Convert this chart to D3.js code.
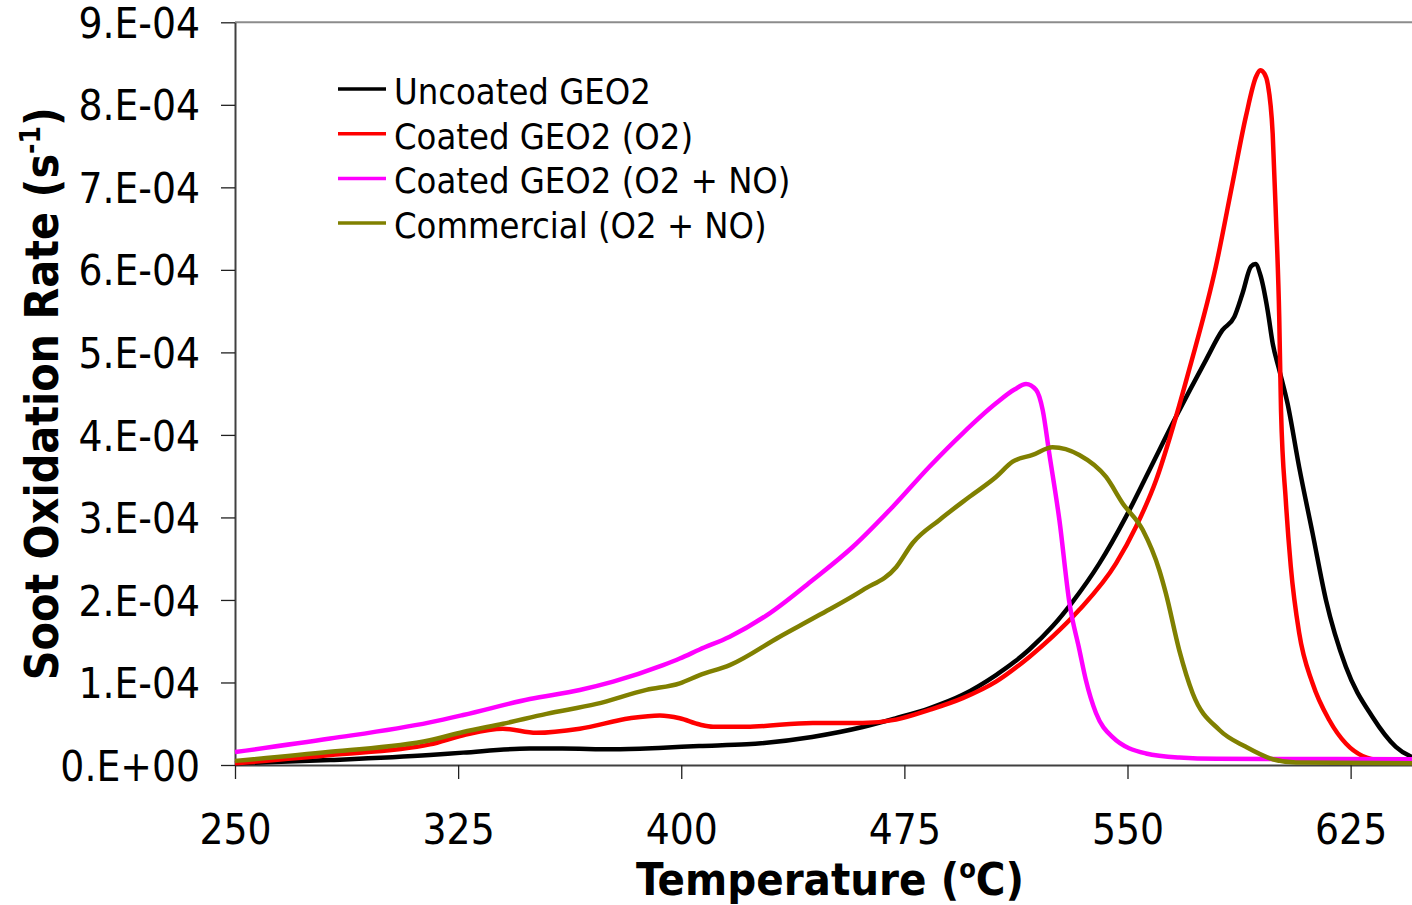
<!DOCTYPE html>
<html>
<head>
<meta charset="utf-8">
<script src="https://cdn.jsdelivr.net/npm/d3@7"></script>
<style>
  html, body { margin: 0; padding: 0; background: #fff; overflow: hidden; }
  svg { display: block; }
  text { font-family: "DejaVu Sans Condensed", "DejaVu Sans", sans-serif; font-stretch: condensed; fill: #000; }
</style>
</head>
<body>
<svg id="chart" width="1412" height="905"></svg>
<script>
// Temperatures in °C, soot oxidation rates in units of 1e-4 s^-1
const uncoatedT = [250, 282, 315.5, 326.7, 349, 360, 377, 394, 406, 422, 444, 461, 472, 483.4, 494.6, 505.8, 512, 517, 524.8, 531.6, 540.5, 549.5, 557.3, 566.3, 576.4, 581.9, 585.9, 588.7, 591.5, 593, 594.8, 597.1, 598.8, 601, 603.8, 607.7, 612.2, 616.7, 623.4, 632.3, 640.2, 650];
const uncoatedRate = [0.02, 0.06, 0.12, 0.15, 0.20, 0.20, 0.19, 0.21, 0.23, 0.25, 0.34, 0.46, 0.566, 0.687, 0.85, 1.09, 1.25, 1.40, 1.68, 1.98, 2.44, 3.01, 3.57, 4.22, 4.91, 5.27, 5.43, 5.72, 6.04, 6.07, 5.92, 5.51, 5.11, 4.79, 4.38, 3.61, 2.81, 2.0, 1.19, 0.585, 0.22, 0.05];

const coatedO2T = [250, 282, 315.5, 326.7, 340, 351.3, 365.9, 382.7, 392.8, 399.5, 406.2, 410.7, 421.9, 444.2, 461, 472.2, 483.4, 494.6, 505.8, 517, 524.8, 533.8, 546.1, 552.9, 559.6, 566.3, 570.8, 579.7, 585.3, 589.8, 593.2, 594.6, 596, 597.1, 598.8, 599.9, 601, 601.6, 603.2, 604.9, 607.7, 612.2, 617.8, 623.4, 629, 635, 650];
const coatedO2Rate = [0.02, 0.12, 0.25, 0.36, 0.44, 0.39, 0.44, 0.566, 0.60, 0.566, 0.49, 0.464, 0.464, 0.51, 0.51, 0.55, 0.667, 0.81, 1.01, 1.31, 1.555, 1.88, 2.44, 2.89, 3.45, 4.22, 4.80, 6.04, 7.05, 7.86, 8.34, 8.42, 8.38, 8.26, 7.65, 6.64, 5.43, 4.30, 3.21, 2.40, 1.60, 0.99, 0.545, 0.26, 0.11, 0.06, 0.05];

const coatedNOT = [250, 282, 315.5, 326.7, 349.1, 365.9, 377.1, 393.9, 399.5, 406.2, 416.3, 429.7, 444.2, 457.7, 471.1, 483.4, 494.6, 505.8, 512, 515.9, 519.3, 521.5, 523.7, 527.1, 530.5, 533.8, 536, 539.4, 544.9, 556.2, 567.4, 580, 650];
const coatedNORate = [0.157, 0.32, 0.517, 0.606, 0.80, 0.909, 1.01, 1.21, 1.29, 1.40, 1.555, 1.838, 2.242, 2.645, 3.13, 3.615, 4.02, 4.383, 4.55, 4.617, 4.544, 4.30, 3.777, 2.97, 1.96, 1.40, 1.03, 0.63, 0.34, 0.14, 0.09, 0.075, 0.07];

const commercialT = [250, 282, 315.5, 326.7, 340.1, 354.7, 371.5, 388.3, 399.5, 406.2, 416.3, 433.1, 446.5, 461, 472.3, 477.8, 486.8, 496.9, 505.8, 511.4, 518.1, 524.8, 533.8, 542.8, 548.4, 555.1, 560.7, 562.9, 567.4, 571.9, 580.9, 589.8, 598.8, 606.6, 650];
const commercialRate = [0.05, 0.16, 0.30, 0.40, 0.50, 0.62, 0.74, 0.91, 0.99, 1.09, 1.21, 1.555, 1.82, 2.12, 2.40, 2.69, 2.97, 3.25, 3.49, 3.675, 3.757, 3.85, 3.757, 3.49, 3.17, 2.85, 2.36, 2.08, 1.39, 0.87, 0.424, 0.22, 0.07, 0.03, 0.02];

const seriesNames = ["Uncoated GEO2", "Coated GEO2 (O2)", "Coated GEO2 (O2 + NO)", "Commercial (O2 + NO)"];
const seriesColors = ["#000000", "#ff0000", "#ff00ff", "#808000"];
const seriesT = [uncoatedT, coatedO2T, coatedNOT, commercialT];
const seriesRate = [uncoatedRate, coatedO2Rate, coatedNORate, commercialRate];

const xTicks = [250, 325, 400, 475, 550, 625];
const yTicks = [0, 1, 2, 3, 4, 5, 6, 7, 8, 9];
const yTickLabels = ["0.E+00", "1.E-04", "2.E-04", "3.E-04", "4.E-04", "5.E-04", "6.E-04", "7.E-04", "8.E-04", "9.E-04"];

// ---- layout ----
const plot = { left: 235, right: 1425, top: 22.3, bottom: 765 };
const svg = d3.select("#chart");

const x = d3.scaleLinear().domain([250, 650]).range([plot.left, plot.right]);
const y = d3.scaleLinear().domain([0, 9e-4]).range([plot.bottom, plot.top]);

// top frame line of the plot area
svg.append("line")
  .attr("x1", plot.left).attr("x2", plot.right)
  .attr("y1", y(9e-4)).attr("y2", y(9e-4))
  .attr("stroke", "#8c8c8c").attr("stroke-width", 2);

// y axis
const yAxis = svg.append("g")
  .attr("transform", `translate(${plot.left},0)`)
  .call(d3.axisLeft(y)
    .tickValues(yTicks.map(v => v * 1e-4))
    .tickFormat((d, i) => yTickLabels[i])
    .tickSize(14).tickSizeOuter(0).tickPadding(21));
yAxis.select(".domain").attr("stroke", "#404040").attr("stroke-width", 2);
yAxis.selectAll(".tick line").attr("stroke", "#202020").attr("stroke-width", 1.3);
yAxis.selectAll(".tick text")
  .attr("font-size", 42)
  .attr("dy", "0.36em")
  .style("font-family", '"DejaVu Sans Condensed", "DejaVu Sans", sans-serif');

// x axis
const xAxis = svg.append("g")
  .attr("transform", `translate(0,${plot.bottom})`)
  .call(d3.axisBottom(x)
    .tickValues(xTicks)
    .tickFormat(d3.format("d"))
    .tickSize(14).tickSizeOuter(0));
xAxis.select(".domain").attr("stroke", "#404040").attr("stroke-width", 2);
xAxis.selectAll(".tick line").attr("stroke", "#202020").attr("stroke-width", 1.3);
xAxis.selectAll(".tick text")
  .attr("font-size", 42)
  .attr("y", 79).attr("dy", null)
  .style("font-family", '"DejaVu Sans Condensed", "DejaVu Sans", sans-serif');

// series lines
const line = d3.line()
  .x(d => x(d[0]))
  .y(d => y(d[1] * 1e-4))
  .curve(d3.curveMonotoneX);

seriesNames.forEach((name, i) => {
  const pts = seriesT[i].map((t, j) => [t, seriesRate[i][j]]);
  svg.append("path")
    .datum(pts)
    .attr("fill", "none")
    .attr("stroke", seriesColors[i])
    .attr("stroke-width", 4.5)
    .attr("stroke-linejoin", "round")
    .attr("d", line);
});

// legend
const legend = svg.append("g").attr("transform", "translate(338,0)");
seriesNames.forEach((name, i) => {
  const base = 104 + i * 44.7;
  legend.append("line")
    .attr("x1", 0).attr("x2", 48)
    .attr("y1", base - 15).attr("y2", base - 15)
    .attr("stroke", seriesColors[i]).attr("stroke-width", 3.5);
  legend.append("text")
    .attr("x", 56).attr("y", base)
    .attr("font-size", 36)
    .text(name);
});

// axis titles
const xTitle = svg.append("text")
  .attr("x", (plot.left + plot.right) / 2).attr("y", 895)
  .attr("text-anchor", "middle")
  .attr("font-size", 45).attr("font-weight", "bold");
xTitle.append("tspan").text("Temperature (");
xTitle.append("tspan").attr("font-size", 27).attr("dy", -17).text("o");
xTitle.append("tspan").attr("dy", 17).text("C)");

const yTitle = svg.append("text")
  .attr("transform", `translate(58,${(plot.top + plot.bottom) / 2}) rotate(-90)`)
  .attr("text-anchor", "middle")
  .attr("font-size", 46).attr("font-weight", "bold");
yTitle.append("tspan").text("Soot Oxidation Rate (s");
yTitle.append("tspan").attr("font-size", 28).attr("dy", -18).text("-1");
yTitle.append("tspan").attr("dy", 18).text(")");
</script>
</body>
</html>
